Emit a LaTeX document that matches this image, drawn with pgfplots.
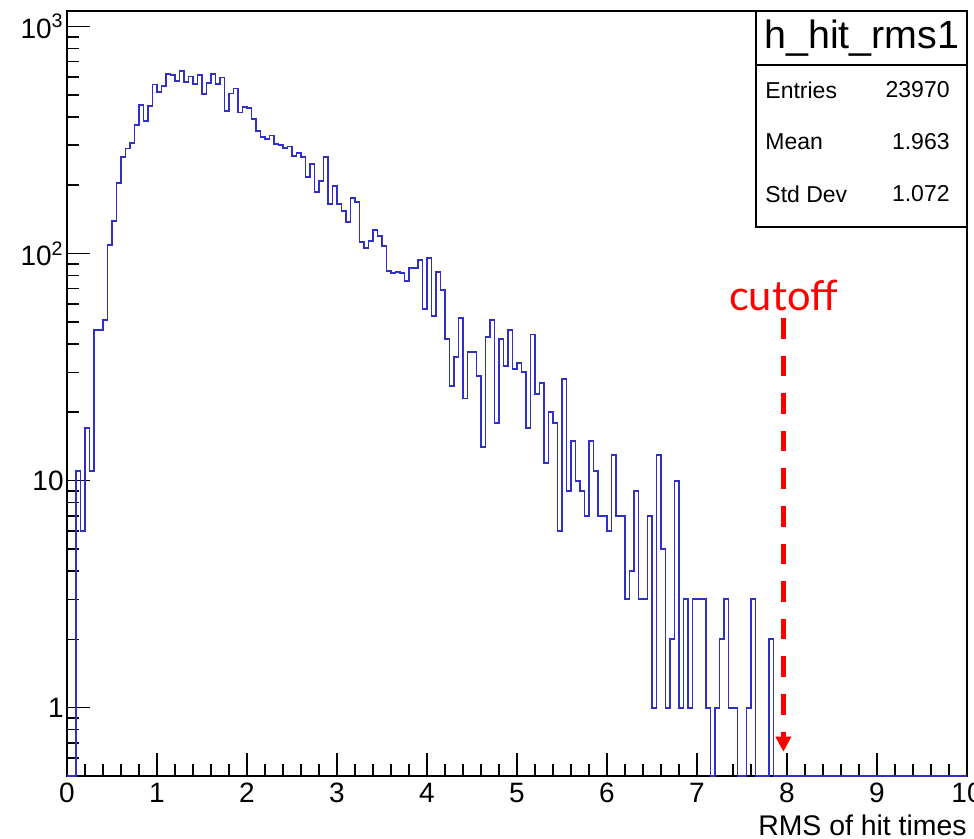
\documentclass[border=0pt]{standalone}
\usepackage{fontspec}
\setmainfont{Liberation Sans}
\newfontfamily\cutfont{Lato}
\usepackage{pgfplots}
\usepackage{pgfplotstable}
\pgfplotsset{compat=1.18}
\usetikzlibrary{arrows.meta}
\definecolor{histblue}{HTML}{3030C8}
\definecolor{cutred}{HTML}{FF0000}

% h_hit_rms1: 200 bins of 0.05 on [0,10]; left bin edge, entries (all bins above 7.85 are empty)
\pgfplotstableread{
x n
0.00 0
0.05 0
0.10 11
0.15 6
0.20 17
0.25 11
0.30 46
0.35 46
0.40 51
0.45 109
0.50 139
0.55 205
0.60 266
0.65 290
0.70 306
0.75 368
0.80 453
0.85 384
0.90 446
0.95 555
1.00 516
1.05 545
1.10 618
1.15 612
1.20 575
1.25 634
1.30 568
1.35 602
1.40 558
1.45 610
1.50 505
1.55 565
1.60 618
1.65 558
1.70 596
1.75 425
1.80 507
1.85 533
1.90 418
1.95 440
2.00 436
2.05 393
2.10 347
2.15 325
2.20 319
2.25 331
2.30 305
2.35 300
2.40 292
2.45 296
2.50 269
2.55 278
2.60 266
2.65 218
2.70 248
2.75 186
2.80 209
2.85 265
2.90 166
2.95 199
3.00 166
3.05 154
3.10 138
3.15 175
3.20 169
3.25 112
3.30 106
3.35 114
3.40 127
3.45 120
3.50 108
3.55 84
3.60 82
3.65 83
3.70 82
3.75 76
3.80 86
3.85 86
3.90 94
3.95 57
4.00 96
4.05 53
4.10 83
4.15 69
4.20 42
4.25 26
4.30 35
4.35 52
4.40 23
4.45 37
4.50 37
4.55 29
4.60 14
4.65 43
4.70 51
4.75 18
4.80 42
4.85 32
4.90 46
4.95 31
5.00 33
5.05 30
5.10 17
5.15 44
5.20 24
5.25 27
5.30 12
5.35 20
5.40 18
5.45 6
5.50 28
5.55 9
5.60 15
5.65 10
5.70 9
5.75 7
5.80 15
5.85 11
5.90 7
5.95 7
6.00 6
6.05 13
6.10 7
6.15 7
6.20 3
6.25 4
6.30 9
6.35 3
6.40 3
6.45 7
6.50 1
6.55 13
6.60 5
6.65 1
6.70 2
6.75 10
6.80 1
6.85 3
6.90 1
6.95 3
7.00 3
7.05 3
7.10 1
7.15 0
7.20 1
7.25 2
7.30 3
7.35 1
7.40 1
7.45 0
7.50 0
7.55 1
7.60 3
7.65 0
7.70 0
7.75 0
7.80 2
7.85 0
10.00 0
}\hitrms

\begin{document}
\begin{tikzpicture}
\path[use as bounding box] (-33.5pt,-31.5pt) rectangle (453.5pt,388pt);
\begin{axis}[
    scale only axis,
    width=450pt, height=382.5pt,
    xmin=0, xmax=10,
    ymode=log, ymin=0.5, ymax=1170,
    axis line style={line width=0.9pt},
    tick align=inside, tick pos=left,
    xtick={0,1,2,3,4,5,6,7,8,9,10}, minor x tick num=4,
    ytick={1,10,100,1000},
    yticklabels={1,10,10\textsuperscript{2},10\textsuperscript{3}},
    minor ytick={0.6,0.7,0.8,0.9,2,3,4,5,6,7,8,9,20,30,40,50,60,70,80,90,200,300,400,500,600,700,800,900},
    major tick length=11.5pt, minor tick length=6pt,
    every tick/.style={black, line width=0.75pt},
    tick label style={font=\fontsize{14}{16}\selectfont},
    yticklabel style={inner xsep=1.5pt},
    /pgf/number format/assume math mode=true,
    xlabel={RMS of hit times},
    xlabel style={at={(axis description cs:1,0)}, anchor=base east, yshift=-30pt,
        inner sep=0pt, font=\fontsize{14.2}{16}\selectfont},
    clip=false,
]
% empty bins sit on the floor of the log axis, as ROOT draws them
\addplot[const plot mark left, histblue, line width=0.95pt]
    table[x=x, y expr={max(\thisrow{n},0.5)}] {\hitrms};

% stats box
\draw[line width=0.8pt, fill=white] (axis description cs:0.7656,0.7176) rectangle (axis description cs:1,1);
\draw[line width=0.8pt] (axis description cs:0.7656,0.9294) -- (axis description cs:1,0.9294);
\node[font=\fontsize{19.7}{22}\selectfont, inner sep=0pt] at (axis description cs:0.8833,0.9647) {h\_hit\_rms1};
\node[anchor=west, inner sep=0pt, font=\fontsize{11.5}{13}\selectfont] at (axis description cs:0.7756,0.8967) {Entries};
\node[anchor=east, inner sep=0pt, font=\fontsize{11.5}{13}\selectfont] at (axis description cs:0.9811,0.8967) {23970};
\node[anchor=west, inner sep=0pt, font=\fontsize{11.5}{13}\selectfont] at (axis description cs:0.7756,0.8288) {Mean};
\node[anchor=east, inner sep=0pt, font=\fontsize{11.5}{13}\selectfont] at (axis description cs:0.9811,0.8288) {1.963};
\node[anchor=west, inner sep=0pt, font=\fontsize{11.5}{13}\selectfont] at (axis description cs:0.7756,0.7608) {Std Dev};
\node[anchor=east, inner sep=0pt, font=\fontsize{11.5}{13}\selectfont] at (axis description cs:0.9811,0.7608) {1.072};

% cutoff marker
\node[cutred, anchor=base, inner sep=0pt, font=\cutfont\fontsize{20.8}{24}\selectfont] at (axis cs:7.96,56) {cutoff};
\draw[cutred, line width=2.1pt, dash pattern=on 10.3pt off 8.5pt,
    -{Triangle[width=7.5pt,length=7.5pt]}] (axis cs:7.96,52) -- (axis cs:7.96,0.64);
\end{axis}
\end{tikzpicture}
\end{document}
